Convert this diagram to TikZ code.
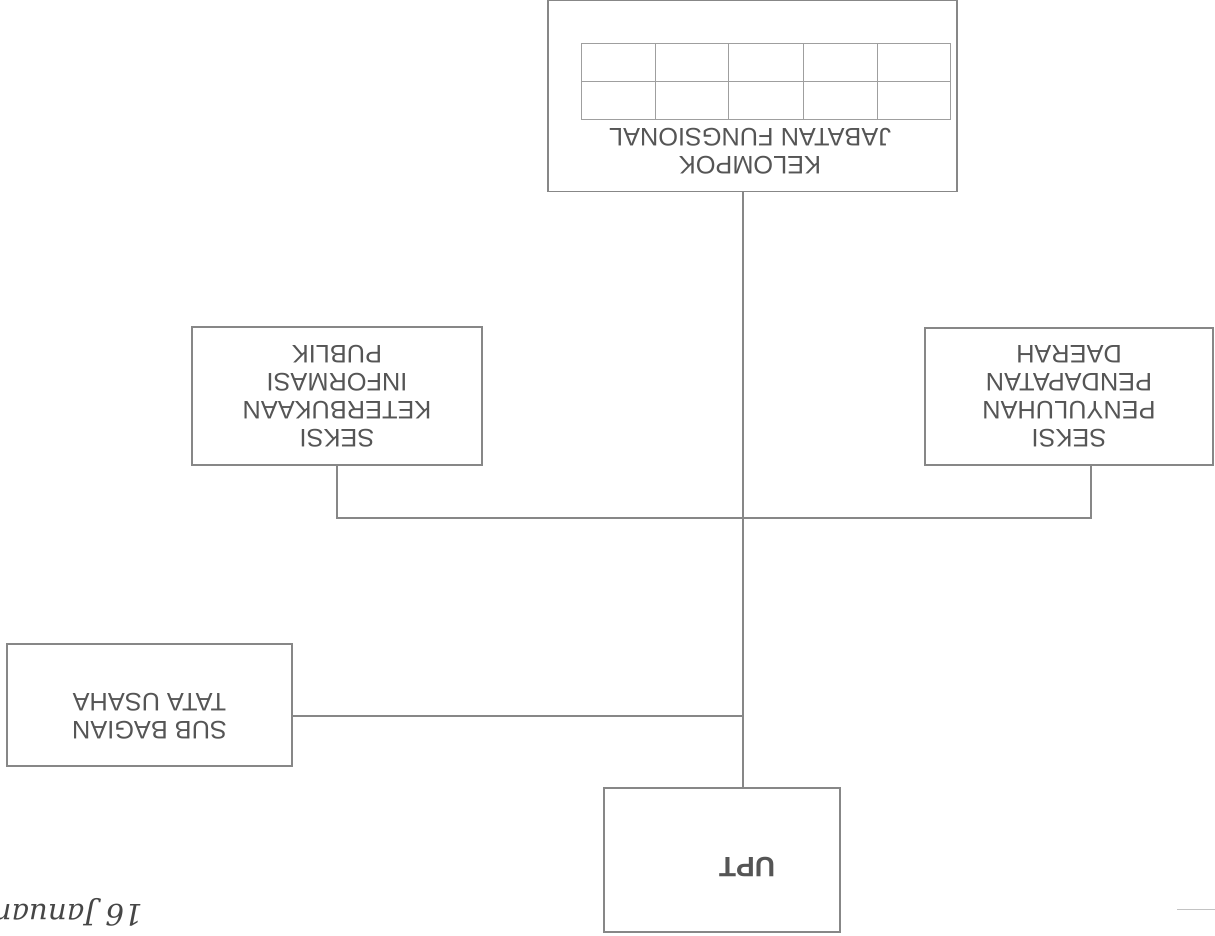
\documentclass[tikz,border=0pt]{standalone}
\usepackage{fontspec}
\setmainfont{Liberation Sans}
\newfontfamily\handfont{DejaVu Serif}
\definecolor{scanline}{RGB}{135,135,135}
\definecolor{scantext}{RGB}{85,85,85}
\definecolor{penink}{RGB}{70,70,70}
\tikzset{
  orgbox/.style 2 args={draw=scanline, line width=0.8pt, minimum width=#1*0.75pt, minimum height=#2*0.75pt, inner sep=0pt},
  orgtext/.style={rotate=180, align=center, text=scantext, font=\fontsize{19}{21}\selectfont, inner sep=0pt},
  link/.style={draw=scanline, line width=0.8pt},
  gridline/.style={draw=scanline!80, line width=0.6pt}
}
\begin{document}
\begin{tikzpicture}[x=0.75pt, y=-0.75pt]
\useasboundingbox (0,0) rectangle (1215,936);
% boxes
\node[orgbox={409}{191}] (kel) at (752.5,96) {};
\node[orgtext] (keltext) at (750,151) {KELOMPOK\\JABATAN FUNGSIONAL};
\node[orgbox={290}{138}, orgtext, draw=scanline] (ls) at (337,396) {SEKSI\\KETERBUKAAN\\INFORMASI\\PUBLIK};
\node[orgbox={288}{137}, orgtext, draw=scanline] (rs) at (1069,396.5) {SEKSI\\PENYULUHAN\\PENDAPATAN\\DAERAH};
\node[orgbox={285}{122}] (sb) at (149.5,705) {};
\node[orgtext] (sbtext) at (149.5,716) {SUB BAGIAN\\TATA USAHA};
\node[orgbox={236}{144}] (upt) at (722,860) {};
\node[orgtext, font=\fontsize{21}{24}\selectfont\bfseries] (upttext) at (747,867) {UPT};
% table inside kelompok box
\draw[gridline] (581,43) rectangle (950,119);
\draw[gridline] (581,81) -- (950,81);
\foreach \gx in {655,728,803,877} \draw[gridline] (\gx,43) -- (\gx,119);
% junctions
\coordinate (jA) at (743,518);
\coordinate (jR) at (1091,518);
\coordinate (jB) at (743,716);
% connectors (ls and rs are rotated 180 degrees, so their north anchor is at the bottom on screen)
\draw[link] (kel.south -| jA) -- (upt.north -| jA);
\draw[link] (ls.north) |- (jR) -- (jR |- rs.north);
\draw[link] (sb.east |- jB) -- (jB);
% handwritten note (upside down)
\node[rotate=180, anchor=west, text=penink, font=\handfont\itshape\fontsize{22}{24}\selectfont, inner sep=0pt] (note) at (143,912) {16 Januar};
% faint scan mark
\coordinate (markA) at (1177,909);
\coordinate (markB) at (1215,909);
\draw[draw=scanline!50, line width=0.6pt] (markA) -- (markB);
\end{tikzpicture}
\end{document}
